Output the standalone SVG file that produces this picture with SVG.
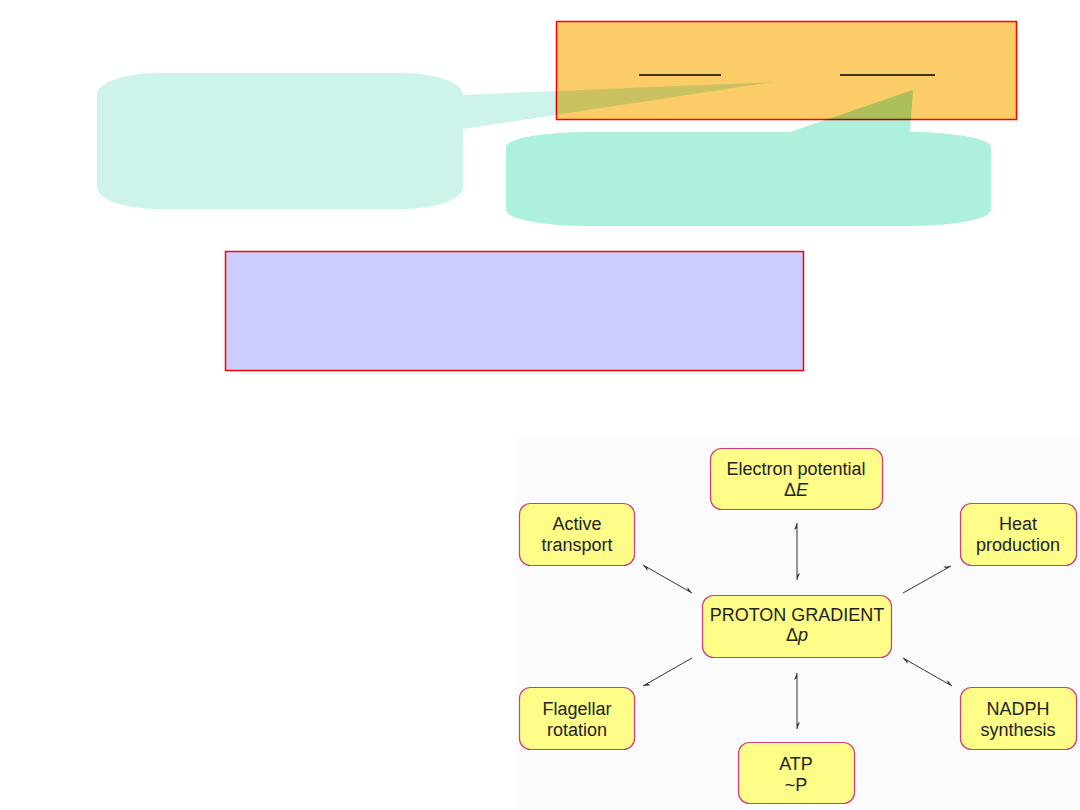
<svg xmlns="http://www.w3.org/2000/svg" width="1080" height="810" viewBox="0 0 1080 810">
<style>
.node rect{fill:#fdfd88;stroke:#d03c7c;stroke-width:1.2}
.node text{font-family:"Liberation Sans",Arial,sans-serif;font-size:18px;fill:#222;text-anchor:middle}
.conn line{stroke:#333;stroke-width:1}
.hdr{stroke:#ff0000;stroke-width:1.5}
.callout{mix-blend-mode:multiply}
</style>
<defs>
<marker id="harp" viewBox="-8 -4 9 8" refX="0" refY="0" markerWidth="9" markerHeight="8" markerUnits="userSpaceOnUse" orient="auto-start-reverse">
<path d="M0,0 L-7,-3 L-5,0 Z" fill="#333"/>
</marker>
</defs>
<rect width="1080" height="810" fill="#ffffff"/>

<g id="orange-box">
<rect x="556.5" y="21.5" width="460" height="98" fill="#fccc68" class="hdr"/>
<line x1="639" y1="75" x2="721" y2="75" stroke="#000" stroke-width="1.3"/>
<line x1="840" y1="75" x2="935" y2="75" stroke="#000" stroke-width="1.3"/>
</g>

<g id="callout-left" class="callout">
<path d="M157,73 H403 A60 22 0 0 1 463 95 L773 82 L463 129 V187 A60 22 0 0 1 403 209 H157 A60 22 0 0 1 97 187 V95 A60 22 0 0 1 157 73 Z" fill="#cdf3ea"/>
</g>

<g id="callout-right" class="callout">
<path d="M586,132 H790 L913 90 L910 132 H911 A80 15 0 0 1 991 147 V210 A80 16 0 0 1 911 226 H586 A80 16 0 0 1 506 210 V147 A80 15 0 0 1 586 132 Z" fill="#adf0dd"/>
</g>

<g id="purple-box">
<rect x="225.5" y="251.5" width="578" height="119" fill="#ccccff" class="hdr"/>
</g>

<rect x="516" y="438" width="564" height="372" fill="#fbfbfc"/>

<g id="connectors" class="conn">
<line x1="797" y1="523" x2="797" y2="580" marker-start="url(#harp)" marker-end="url(#harp)"/>
<line x1="797" y1="673" x2="797" y2="729" marker-start="url(#harp)" marker-end="url(#harp)"/>
<line x1="643" y1="565" x2="692" y2="593" marker-start="url(#harp)" marker-end="url(#harp)"/>
<line x1="903" y1="593" x2="951" y2="566" marker-end="url(#harp)"/>
<line x1="692" y1="658" x2="643" y2="686" marker-end="url(#harp)"/>
<line x1="903" y1="658" x2="952" y2="686" marker-start="url(#harp)" marker-end="url(#harp)"/>
</g>

<g id="electron" class="node">
<rect x="710.5" y="448.5" width="172" height="61" rx="11"/>
<text x="796" y="475">Electron potential</text>
<text x="796" y="496">Δ<tspan font-style="italic">E</tspan></text>
</g>
<g id="proton" class="node">
<rect x="702.5" y="595.5" width="189" height="62" rx="11"/>
<text x="797" y="621">PROTON GRADIENT</text>
<text x="797" y="641">Δ<tspan font-style="italic">p</tspan></text>
</g>
<g id="active" class="node">
<rect x="519.5" y="503.5" width="115" height="62" rx="11"/>
<text x="577" y="530">Active</text>
<text x="577" y="551">transport</text>
</g>
<g id="heat" class="node">
<rect x="960.5" y="503.5" width="116" height="62" rx="11"/>
<text x="1018" y="530">Heat</text>
<text x="1018" y="551">production</text>
</g>
<g id="flagellar" class="node">
<rect x="519.5" y="687.5" width="115" height="62" rx="11"/>
<text x="577" y="715">Flagellar</text>
<text x="577" y="736">rotation</text>
</g>
<g id="nadph" class="node">
<rect x="960.5" y="687.5" width="116" height="62" rx="11"/>
<text x="1018" y="715">NADPH</text>
<text x="1018" y="736">synthesis</text>
</g>
<g id="atp" class="node">
<rect x="738.5" y="742.5" width="116" height="61" rx="11"/>
<text x="796" y="770">ATP</text>
<text x="796" y="791">~P</text>
</g>
</svg>
